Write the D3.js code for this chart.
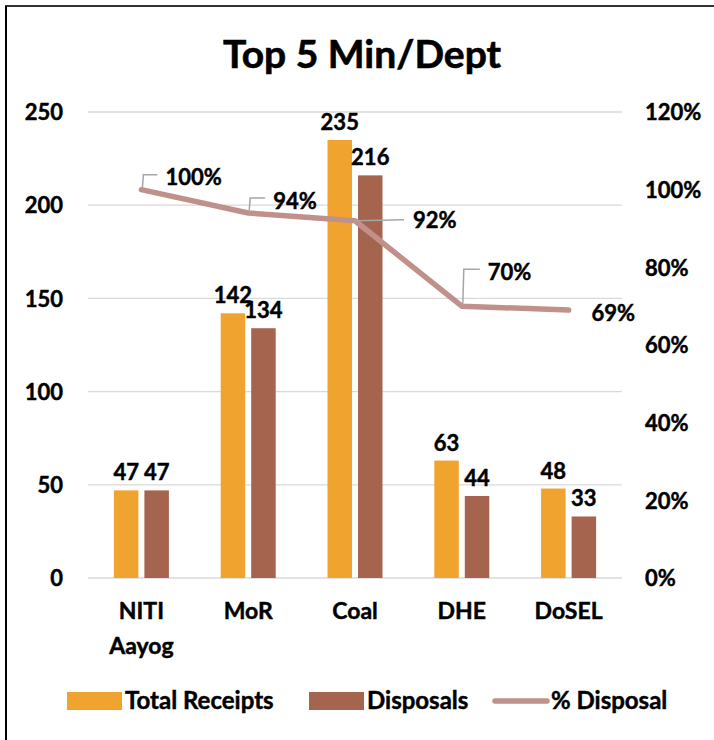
<!DOCTYPE html>
<html>
<head>
<meta charset="utf-8">
<script src="https://cdn.jsdelivr.net/npm/d3@7"></script>
<style>
  html, body { margin: 0; padding: 0; background: #fff; }
  svg { display: block; }
  text { font-family: Lato, "Open Sans", "Liberation Sans", sans-serif; font-weight: 700; fill: #000; stroke: #000; stroke-width: 0.45px; }
</style>
</head>
<body>
<script>
const categories = [["NITI", "Aayog"], ["MoR"], ["Coal"], ["DHE"], ["DoSEL"]];
const totalReceipts = [47, 142, 235, 63, 48];
const disposals = [47, 134, 216, 44, 33];
const pctDisposal = [100, 94, 92, 70, 69];
const leftTicks = [0, 50, 100, 150, 200, 250];
const rightTicks = [0, 20, 40, 60, 80, 100, 120];

// label callout offsets (dx, dy of label relative to point, leader style)
const pctLabelStyle = [
  { dx: 24, dy: -12, leader: "elbow" },
  { dx: 25, dy: -12, leader: "elbow" },
  { dx: 58, dy: 0, leader: "flat" },
  { dx: 26, dy: -34, leader: "elbow" },
  { dx: 23, dy: 3, leader: "none" }
];

const W = 714, H = 740;
const colors = { receipts: "#f0a32f", disposals: "#a5644e", line: "#c0918a", grid: "#d9d9d9" };
const FS = 22;

const svg = d3.select("body").append("svg").attr("width", W).attr("height", H);
svg.append("rect").attr("width", W).attr("height", H).attr("fill", "#fff");

// frame
svg.append("line").attr("x1", 5).attr("x2", W).attr("y1", 6).attr("y2", 6)
  .attr("stroke", "#333").attr("stroke-width", 2);
svg.append("line").attr("x1", 6).attr("x2", 6).attr("y1", 6).attr("y2", H)
  .attr("stroke", "#000").attr("stroke-width", 2);

svg.append("text").attr("x", 362).attr("y", 68).attr("text-anchor", "middle")
  .style("font-size", "39px").style("stroke-width", "0.6px").text("Top 5 Min/Dept");

const plot = { left: 88, right: 622, top: 112, bottom: 578 };

const x = d3.scaleBand().domain(d3.range(categories.length))
  .range([plot.left, plot.right]).paddingInner(0).paddingOuter(0);
const yL = d3.scaleLinear().domain([0, 250]).range([plot.bottom, plot.top]);
const yR = d3.scaleLinear().domain([0, 120]).range([plot.bottom, plot.top]);

// gridlines
svg.append("g").selectAll("line").data(leftTicks).join("line")
  .attr("x1", plot.left).attr("x2", plot.right)
  .attr("y1", d => yL(d)).attr("y2", d => yL(d))
  .attr("stroke", colors.grid).attr("stroke-width", 1.3);

function styleTicks(g) {
  g.select(".domain").remove();
  g.selectAll("text").style("font-size", FS + "px").attr("dy", "0.35em")
    .style("font-family", "Lato, 'Open Sans', sans-serif").style("font-weight", 700)
    .attr("fill", "#000").attr("stroke", "#000").attr("stroke-width", 0.45);
}

// left axis labels
const leftAxis = d3.axisLeft(yL).tickValues(leftTicks).tickSize(0).tickPadding(0);
svg.append("g").attr("transform", "translate(63,0)").call(leftAxis).call(styleTicks);

// right axis labels
const rightAxis = d3.axisRight(yR).tickValues(rightTicks).tickSize(0).tickPadding(0)
  .tickFormat(d => d + "%");
svg.append("g").attr("transform", "translate(645,0)").call(rightAxis).call(styleTicks);

// bars
const barW = 24.5, gap = 6;
const bars = svg.append("g");
const series = [
  { vals: totalReceipts, color: colors.receipts, off: -gap / 2 - barW },
  { vals: disposals, color: colors.disposals, off: gap / 2 }
];
series.forEach(s => {
  bars.append("g").selectAll("rect").data(s.vals).join("rect")
    .attr("x", (d, i) => x(i) + x.bandwidth() / 2 + s.off)
    .attr("width", barW)
    .attr("y", d => yL(d))
    .attr("height", d => yL(0) - yL(d))
    .attr("fill", s.color);
  bars.append("g").selectAll("text").data(s.vals).join("text")
    .attr("x", (d, i) => x(i) + x.bandwidth() / 2 + s.off + barW / 2)
    .attr("y", d => yL(d) - 10)
    .attr("text-anchor", "middle")
    .style("font-size", FS + "px")
    .text(d => d);
});

// x labels
const xl = svg.append("g");
categories.forEach((lines, i) => {
  const t = xl.append("text").attr("x", x(i) + x.bandwidth() / 2).attr("y", 619)
    .attr("text-anchor", "middle").style("font-size", "23px");
  lines.forEach((l, j) => t.append("tspan").attr("x", x(i) + x.bandwidth() / 2)
    .attr("dy", j === 0 ? 0 : 35).text(l));
});

// line
const pts = pctDisposal.map((v, i) => [x(i) + x.bandwidth() / 2, yR(v)]);
svg.append("path").attr("d", d3.line()(pts))
  .attr("fill", "none").attr("stroke", colors.line).attr("stroke-width", 5.5)
  .attr("stroke-linecap", "round").attr("stroke-linejoin", "round");

// pct labels with leaders
const lab = svg.append("g");
pctDisposal.forEach((v, i) => {
  const [px, py] = pts[i];
  const st = pctLabelStyle[i];
  const lx = px + st.dx, ly = py + st.dy;
  if (st.leader === "elbow") {
    lab.append("path")
      .attr("d", `M${px + 1},${py - 2} L${px + 2},${ly - 3} L${lx - 8},${ly - 3}`)
      .attr("fill", "none").attr("stroke", "#a6a6a6").attr("stroke-width", 1.5);
  } else if (st.leader === "flat") {
    lab.append("path")
      .attr("d", `M${px + 2},${py} L${lx - 9},${py - 1}`)
      .attr("fill", "none").attr("stroke", "#a6a6a6").attr("stroke-width", 1.5);
  }
  lab.append("text").attr("x", lx).attr("y", ly).attr("dy", "0.35em")
    .style("font-size", FS + "px").text(v + "%");
});

// legend
const lg = svg.append("g");
const legendY = 701;
lg.append("rect").attr("x", 67).attr("y", legendY - 9).attr("width", 55).attr("height", 18).attr("fill", colors.receipts);
lg.append("text").attr("x", 125).attr("y", legendY).attr("dy", "0.35em").style("font-size", "24px").text("Total Receipts");
lg.append("rect").attr("x", 309).attr("y", legendY - 9).attr("width", 55).attr("height", 18).attr("fill", colors.disposals);
lg.append("text").attr("x", 367).attr("y", legendY).attr("dy", "0.35em").style("font-size", "24px").text("Disposals");
lg.append("line").attr("x1", 495).attr("x2", 547).attr("y1", legendY).attr("y2", legendY)
  .attr("stroke", colors.line).attr("stroke-width", 5.5).attr("stroke-linecap", "round");
lg.append("text").attr("x", 551).attr("y", legendY).attr("dy", "0.35em").style("font-size", "24px").text("% Disposal");
</script>
</body>
</html>
